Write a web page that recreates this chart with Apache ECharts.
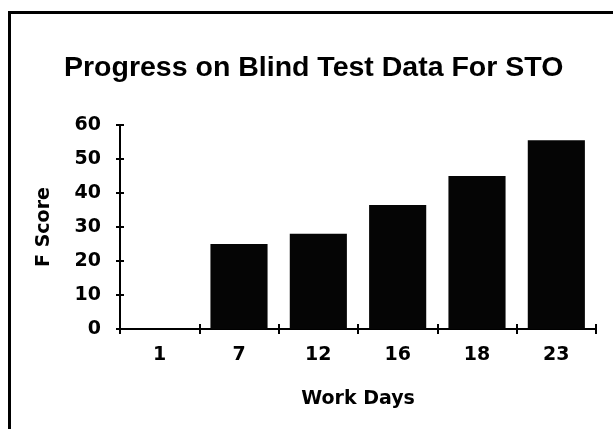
<!DOCTYPE html>
<html>
<head>
<meta charset="utf-8">
<script src="https://cdn.jsdelivr.net/npm/echarts@6/dist/echarts.min.js"></script>
<style>
html,body{margin:0;padding:0;background:#fff;}
#chart{width:613px;height:429px;}
</style>
</head>
<body>
<div id="chart"></div>
<script>
var categories = ['1', '7', '12', '16', '18', '23'];
var fScores = [0, 25, 28, 36.5, 45, 55.5];
var yTicks = [0, 10, 20, 30, 40, 50, 60];

var chart = echarts.init(document.getElementById('chart'), null, {renderer: 'canvas'});
var labelFont = '"DejaVu Sans", sans-serif';
chart.setOption({
  animation: false,
  backgroundColor: '#fff',
  title: {
    text: 'Progress on Blind Test Data For STO',
    left: 64,
    top: 54,
    padding: 0,
    textStyle: {fontFamily: '"Liberation Sans", Arial, sans-serif', fontWeight: 'bold', fontSize: 28.5, color: '#000'}
  },
  grid: {left: 120, right: 17, top: 125, bottom: 100},
  xAxis: [{
    type: 'category',
    data: categories,
    position: 'bottom',
    boundaryGap: true,
    name: 'Work Days',
    nameLocation: 'middle',
    nameGap: 70,
    nameTextStyle: {fontFamily: labelFont, fontWeight: 'bold', fontSize: 19, color: '#000', verticalAlign: 'middle'},
    axisLine: {lineStyle: {color: '#000', width: 2}},
    axisTick: {show: true, length: 5, lineStyle: {color: '#000', width: 2}},
    axisLabel: {fontFamily: labelFont, fontWeight: 'bold', fontSize: 19, color: '#000', margin: 17},
    splitLine: {show: false}
  }, {
    type: 'category',
    data: categories,
    position: 'bottom',
    boundaryGap: true,
    axisLine: {show: false},
    axisTick: {show: true, inside: true, length: 5, lineStyle: {color: '#000', width: 2}},
    axisLabel: {show: false},
    splitLine: {show: false}
  }],
  yAxis: [{
    type: 'value',
    min: yTicks[0],
    max: yTicks[yTicks.length - 1],
    interval: yTicks[1] - yTicks[0],
    name: 'F Score',
    nameLocation: 'middle',
    nameGap: 76,
    nameRotate: 90,
    nameTextStyle: {fontFamily: labelFont, fontWeight: 'bold', fontSize: 19, color: '#000', verticalAlign: 'middle'},
    axisLine: {show: true, lineStyle: {color: '#000', width: 2}},
    axisTick: {show: true, length: 4, lineStyle: {color: '#000', width: 2}},
    axisLabel: {fontFamily: labelFont, fontWeight: 'bold', fontSize: 19, color: '#000', margin: 19},
    splitLine: {show: false}
  }, {
    type: 'value',
    position: 'left',
    min: yTicks[0],
    max: yTicks[yTicks.length - 1],
    interval: yTicks[1] - yTicks[0],
    axisLine: {show: false},
    axisTick: {show: true, inside: true, length: 4, lineStyle: {color: '#000', width: 2}},
    axisLabel: {show: false},
    splitLine: {show: false}
  }],
  series: [{
    type: 'bar',
    data: fScores,
    barCategoryGap: '28%',
    itemStyle: {color: '#050505'},
    z: 1
  }],
  graphic: [
    {type: 'line', shape: {x1: 9.5, y1: 12, x2: 9.5, y2: 429}, style: {stroke: '#000', lineWidth: 3}},
    {type: 'line', shape: {x1: 8, y1: 12.5, x2: 613, y2: 12.5}, style: {stroke: '#000', lineWidth: 3}}
  ]
});
</script>
</body>
</html>
